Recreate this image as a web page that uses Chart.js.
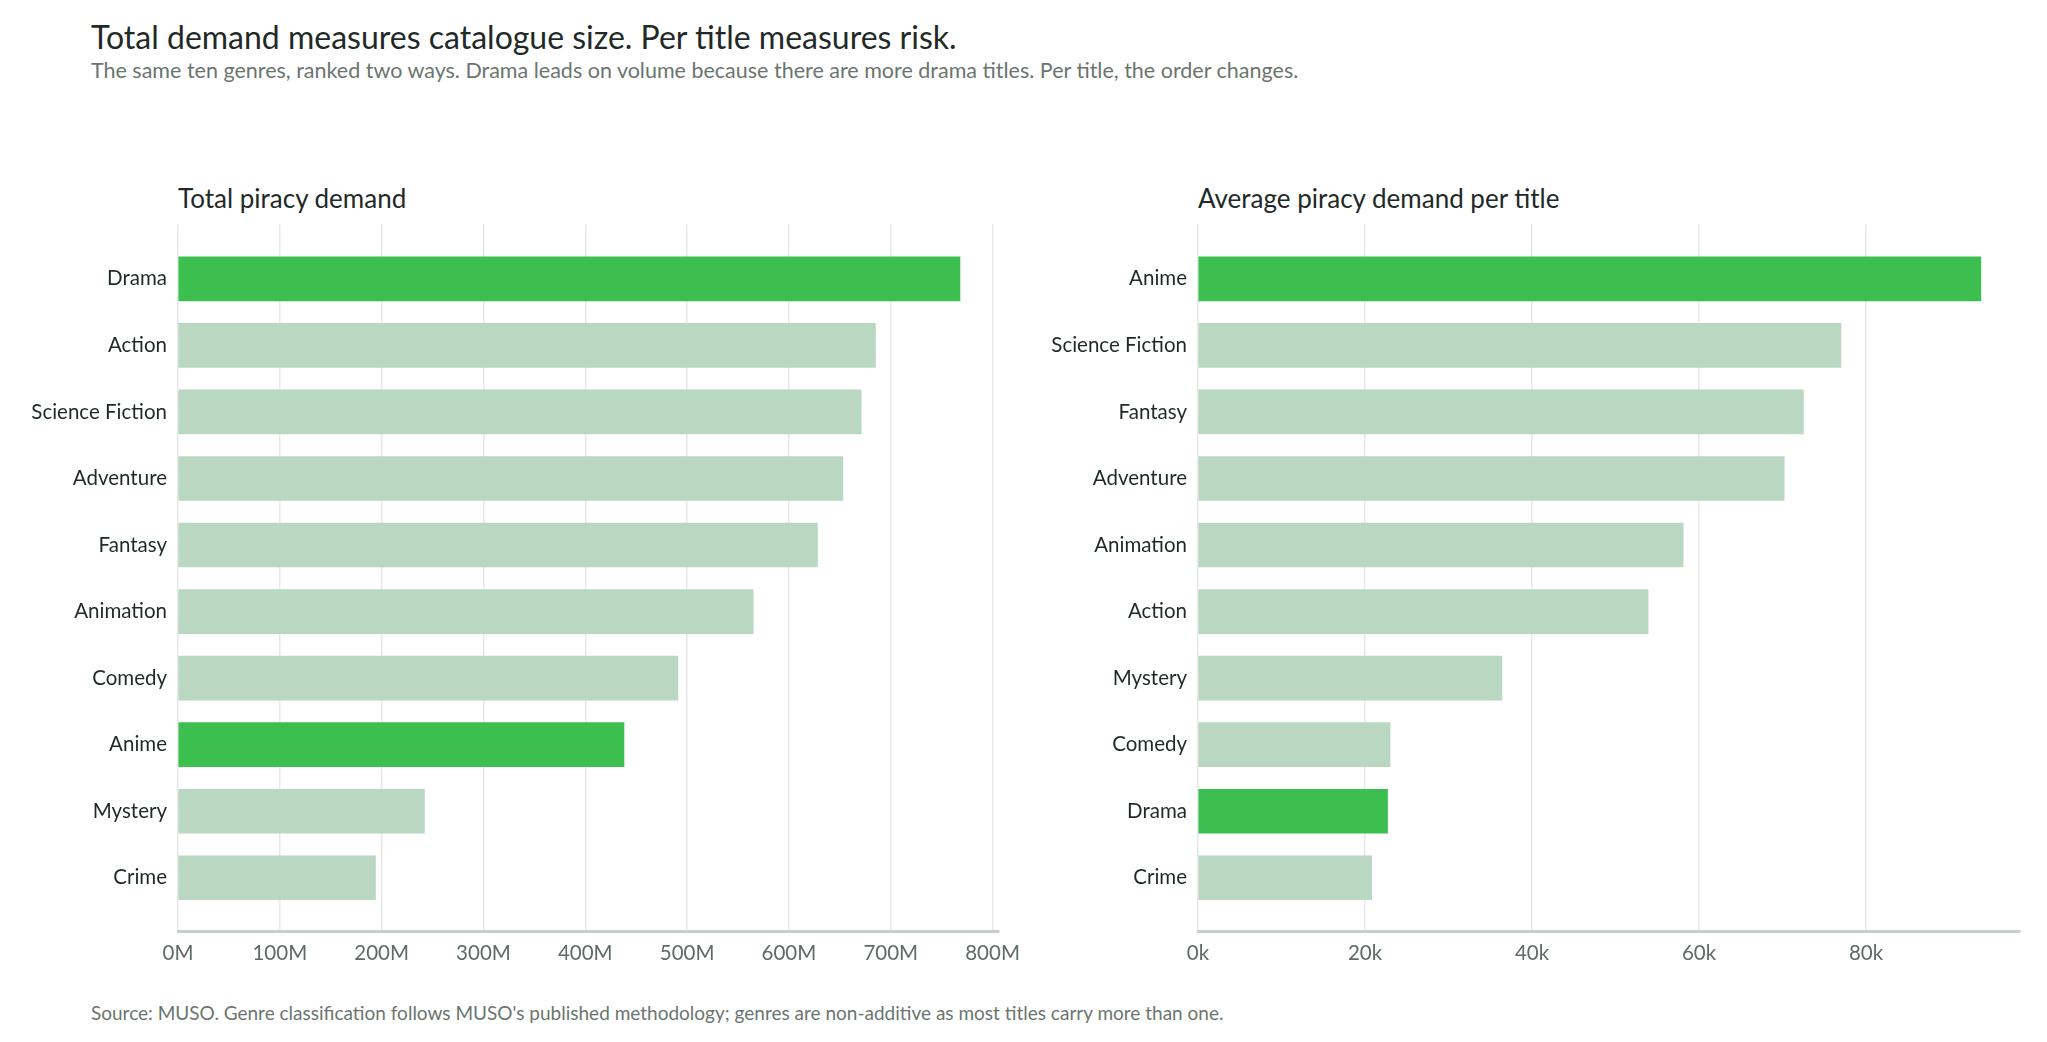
<!DOCTYPE html>
<html lang="en">
<head>
<meta charset="UTF-8">
<title>Piracy demand by genre</title>
<script src="https://cdn.jsdelivr.net/npm/chart.js"></script>
<style>
    body { margin: 0; width: 2047px; height: 1042px; background: #fff; font-family: Lato, sans-serif; position: relative; overflow: hidden; }
    .title { position: absolute; left: 91px; top: 17px; font-size: 32px; color: #1f2a28; }
    .subtitle { position: absolute; left: 91px; top: 57px; font-size: 21.5px; color: #6b7570; }
    .panel-title { position: absolute; top: 182px; font-size: 26px; color: #1f2a28; }
    .source { position: absolute; left: 91px; top: 1001px; font-size: 19px; color: #6b7570; }
    .box { position: absolute; top: 209px; height: 764px; }
</style>
</head>
<body>
    <div class="title">Total demand measures catalogue size. Per title measures risk.</div>
    <div class="subtitle">The same ten genres, ranked two ways. Drama leads on volume because there are more drama titles. Per title, the order changes.</div>
    <div class="panel-title" style="left:178px">Total piracy demand</div>
    <div class="panel-title" style="left:1198px">Average piracy demand per title</div>
    <div class="box" style="left:0; width:1030px"><canvas id="totalChart"></canvas></div>
    <div class="box" style="left:1000px; width:1047px"><canvas id="perTitleChart"></canvas></div>
    <div class="source">Source: MUSO. Genre classification follows MUSO's published methodology; genres are non-additive as most titles carry more than one.</div>

<script>
// Total demand, millions (ranked)
const totalGenres = ['Drama', 'Action', 'Science Fiction', 'Adventure', 'Fantasy', 'Animation', 'Comedy', 'Anime', 'Mystery', 'Crime'];
const totalValues = [768, 685, 671, 653, 628, 565, 491, 438, 242, 194];
const totalTicks = [0, 100, 200, 300, 400, 500, 600, 700, 800];

// Average demand per title, thousands (ranked)
const perTitleGenres = ['Anime', 'Science Fiction', 'Fantasy', 'Adventure', 'Animation', 'Action', 'Mystery', 'Comedy', 'Drama', 'Crime'];
const perTitleValues = [93.75, 77.0, 72.5, 70.2, 58.1, 53.9, 36.4, 23.0, 22.7, 20.8];
const perTitleTicks = [0, 20, 40, 60, 80];

const highlight = ['Drama', 'Anime'];
const strong = '#3dbf4f';
const light = '#bad8c1';

Chart.defaults.font.family = 'Lato, sans-serif';
Chart.defaults.animation = false;

function makeChart(id, genres, values, ticks, suffix, yWidth, padRight) {
    const ctx = document.getElementById(id).getContext('2d');
    return new Chart(ctx, {
        type: 'bar',
        data: {
            datasets: [{
                data: values.map((v, i) => ({ x: v, y: i })),
                backgroundColor: genres.map(g => highlight.includes(g) ? strong : light),
                barThickness: 44
            }]
        },
        options: {
            indexAxis: 'y',
            responsive: true,
            maintainAspectRatio: false,
            layout: { padding: { left: 0, right: padRight, top: 0, bottom: 0 } },
            plugins: { legend: { display: false }, tooltip: { enabled: false } },
            scales: {
                y: {
                    type: 'linear',
                    reverse: true,
                    offset: false,
                    min: -0.82,
                    max: 9.8,
                    grid: { display: false, offset: false },
                    border: { display: false },
                    afterBuildTicks: s => { s.ticks = genres.map((g, i) => ({ value: i })); },
                    afterFit: s => { s.width = yWidth; },
                    ticks: {
                        autoSkip: false,
                        padding: 3,
                        color: '#1f2a28',
                        font: { size: 20.5 },
                        callback: v => genres[v]
                    }
                },
                x: {
                    type: 'linear',
                    min: 0,
                    max: Math.max(...values) * 1.05,
                    afterBuildTicks: s => { s.ticks = ticks.map(v => ({ value: v })); },
                    afterFit: s => { s.height = 42; },
                    grid: { color: '#e8e8e8', lineWidth: 1.5, drawTicks: false },
                    border: { display: true, color: '#c8d0cc', width: 3 },
                    ticks: {
                        padding: 10,
                        color: '#5f6b66',
                        font: { size: 20.5 },
                        callback: v => v + suffix
                    }
                }
            }
        }
    });
}

makeChart('totalChart', totalGenres, totalValues, totalTicks, 'M', 178, 10);
makeChart('perTitleChart', perTitleGenres, perTitleValues, perTitleTicks, 'k', 198, 27);
</script>
</body>
</html>
